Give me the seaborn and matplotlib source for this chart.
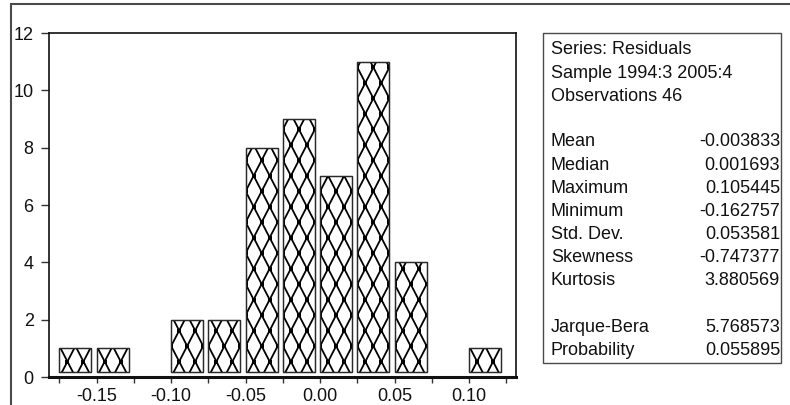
import matplotlib
matplotlib.use("Agg")
import matplotlib.pyplot as plt
from matplotlib.patches import Rectangle
from matplotlib.collections import LineCollection
import numpy as np
import pandas as pd
import seaborn as sns

# Histogram of residuals: bin left edges (width 0.025) and counts per bin
bin_left = [-0.175, -0.150, -0.125, -0.100, -0.075, -0.050,
            -0.025, 0.000, 0.025, 0.050, 0.075, 0.100]
counts = [1, 1, 0, 2, 2, 8, 9, 7, 11, 4, 0, 1]
bin_width = 0.025

# Descriptive statistics panel
stat_header = ["Series: Residuals", "Sample 1994:3 2005:4", "Observations 46"]
stat_names = ["Mean", "Median", "Maximum", "Minimum", "Std. Dev.",
              "Skewness", "Kurtosis"]
stat_values = ["-0.003833", "0.001693", "0.105445", "-0.162757",
               "0.053581", "-0.747377", "3.880569"]
test_names = ["Jarque-Bera", "Probability"]
test_values = ["5.768573", "0.055895"]

x_major = [-0.15, -0.10, -0.05, 0.00, 0.05, 0.10]
x_labels = ["-0.15", "-0.10", "-0.05", "0.00", "0.05", "0.10"]
y_ticks = [0, 2, 4, 6, 8, 10, 12]

sns.set_theme(style="white")
plt.rcParams["font.family"] = ["Liberation Sans", "DejaVu Sans"]

W, H = 790, 405
fig = plt.figure(figsize=(W / 100, H / 100), dpi=100)
fig.patch.set_facecolor("white")

# outer frame (top and left edges)
fig.add_artist(Rectangle((11 / W, -0.1), 1.2, 1 - 4 / H + 0.1,
                         transform=fig.transFigure, fill=False,
                         edgecolor="#4a4a4a", linewidth=1.5))

ax = fig.add_axes([49 / W, 1 - 377 / H, (516 - 49) / W, (377 - 33) / H])

shrink = 0.86
offset = (1 - shrink) * bin_width / 2
edges = [b - offset for b in bin_left] + [bin_left[-1] + bin_width - offset]
df = pd.DataFrame({"resid": [b + bin_width / 2 - offset for b in bin_left],
                   "count": counts})
sns.histplot(data=df, x="resid", weights="count", bins=edges, shrink=shrink,
             color="white", edgecolor="#2a2a2a", linewidth=0.9, alpha=1,
             ax=ax)


def diamond_fill(ax, patch, n_across=2, cell_h=1.08, lw=1.3):
    """Fill a bar with an elongated diamond lattice, clipped to the bar."""
    x0, y0 = patch.get_x(), patch.get_y()
    w, h = patch.get_width(), patch.get_height()
    cw = w / n_across
    slope = cw / cell_h            # dx per unit dy
    ylo, yhi = y0 - cell_h, y0 + h + cell_h
    segs = []
    kmax = n_across + int(np.ceil((h + 2 * cell_h) / cell_h)) + 2
    for k in range(-kmax, kmax + 1):
        xa = x0 + k * cw
        segs.append([(xa + ylo * slope, ylo), (xa + yhi * slope, yhi)])
        segs.append([(xa - ylo * slope, ylo), (xa - yhi * slope, yhi)])
    lc = LineCollection(segs, colors="black", linewidths=lw, zorder=3)
    ax.add_collection(lc)
    lc.set_clip_path(patch)
    # emphasised crossing points
    px, py = [], []
    for j in range(int(np.floor(ylo / (cell_h / 2))), int(np.ceil(yhi / (cell_h / 2))) + 1):
        for i in range(0, 2 * n_across + 1):
            if (i + j) % 2 == 0:
                px.append(x0 + i * cw / 2)
                py.append(j * cell_h / 2)
    pts = ax.scatter(px, py, marker="s", s=7, color="black", linewidths=0,
                     zorder=3)
    pts.set_clip_path(patch)


# bars rest slightly above the baseline
base = 0.17
bars = list(ax.patches)
for p in bars:
    h = p.get_height()
    if h > 0:
        p.set_y(base)
        p.set_height(h - base)
        p.set_zorder(2)
        diamond_fill(ax, p)
    else:
        p.set_visible(False)
# redraw bar outlines above the fill
for p in bars:
    if p.get_visible():
        ax.add_patch(Rectangle((p.get_x(), p.get_y()), p.get_width(),
                               p.get_height(), fill=False,
                               edgecolor="#2a2a2a", linewidth=0.9, zorder=4))

ax.set_xlim(-0.182, 0.1315)
ax.set_ylim(0, 12)
ax.set_xticks(x_major)
ax.set_xticklabels(x_labels)
ax.set_xticks([-0.175, -0.125, -0.075, -0.025, 0.025, 0.075, 0.125], minor=True)
ax.set_yticks(y_ticks)
ax.set_yticklabels([str(v) for v in y_ticks])
ax.set_xlabel("")
ax.set_ylabel("")
ax.tick_params(axis="x", which="both", direction="out", length=4, width=1,
               color="#333", bottom=True, labelsize=13, pad=4, labelcolor="#111")
ax.tick_params(axis="y", direction="out", length=6, width=1, color="#333",
               left=True, labelsize=13, pad=5, labelcolor="#111")
for name, sp in ax.spines.items():
    sp.set_visible(True)
    sp.set_color("#111")
    sp.set_linewidth(1.2)
ax.spines["bottom"].set_linewidth(2.2)
ax.grid(False)

# statistics box
fig.add_artist(Rectangle((543 / W, 1 - 363 / H), (781 - 543) / W, (363 - 33) / H,
                         transform=fig.transFigure, fill=False,
                         edgecolor="#4a4a4a", linewidth=1.0))
fs = 13
lx, rx = 551 / W, 780 / W
step = 23.1
y0 = 50
for i, s in enumerate(stat_header):
    fig.text(lx, 1 - (y0 + i * step) / H, s, fontsize=fs, va="center",
             ha="left", color="#111")
for i, (n, v) in enumerate(zip(stat_names, stat_values)):
    y = 1 - (142 + i * step) / H
    fig.text(lx, y, n, fontsize=fs, va="center", ha="left", color="#111")
    fig.text(rx, y, v, fontsize=fs, va="center", ha="right", color="#111")
for i, (n, v) in enumerate(zip(test_names, test_values)):
    y = 1 - (327 + i * step) / H
    fig.text(lx, y, n, fontsize=fs, va="center", ha="left", color="#111")
    fig.text(rx, y, v, fontsize=fs, va="center", ha="right", color="#111")

fig.savefig("out.png", dpi=100, facecolor="white")
